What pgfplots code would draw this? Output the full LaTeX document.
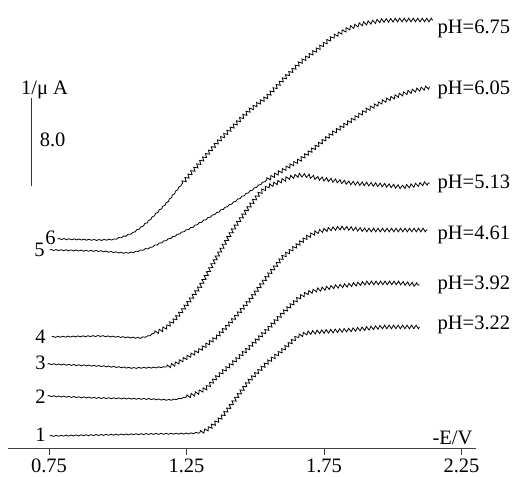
\documentclass[border=0pt]{standalone}
\usepackage{fontspec}
\setmainfont{Liberation Serif}
\usepackage{pgfplots}
\pgfplotsset{compat=1.18}
\usetikzlibrary{decorations.pathmorphing}

\begin{document}
\begin{tikzpicture}[font=\fontsize{20.5bp}{24bp}\selectfont,
  flat/.style={black, line width=0.8bp, decorate,
    decoration={zigzag, segment length=5bp, amplitude=0.5bp}},
  saw/.style={black, line width=0.8bp, decorate,
    decoration={zigzag, segment length=4.5bp, amplitude=1.8bp}},
  lab/.style={inner sep=1bp, text depth=0pt}]
\useasboundingbox (-8bp,-28.5bp) rectangle (507bp,448.5bp);
\begin{axis}[
  at={(0,0)}, anchor=south west, scale only axis,
  width=468bp, height=448.5bp,
  xmin=0.6009, xmax=2.3027, ymin=0, ymax=40.77,
  axis x line=bottom, axis y line=none,
  x axis line style={-, line width=0.8bp, black!75},
  xtick={0.75,1.25,1.75,2.25}, xticklabels={0.75,1.25,1.75,2.25},
  tick align=outside, major tick length=6bp,
  tick style={line width=0.8bp, black!75},
  xticklabel style={inner sep=1bp, text depth=0pt, yshift=-3bp},
  clip=false,
]
% curve 1, pH 3.22
\addplot[flat] coordinates {(0.753,1.14)(0.934,1.23)(1.116,1.32)(1.260,1.36)(1.299,1.45)};
\addplot[saw] coordinates {(1.299,1.45)(1.316,1.60)(1.334,1.86)(1.356,2.35)(1.378,2.86)(1.407,3.77)(1.433,4.68)(1.480,6.23)(1.542,7.77)(1.600,8.95)(1.651,10.14)(1.687,10.50)(1.723,10.59)(1.843,10.77)(1.963,11.05)(2.098,11.05)};
% curve 2, pH 3.92
\addplot[flat] coordinates {(0.745,4.77)(0.934,4.59)(1.116,4.50)(1.189,4.41)(1.220,4.50)(1.250,4.68)};
\addplot[saw] coordinates {(1.250,4.68)(1.290,5.05)(1.323,5.50)(1.360,6.50)(1.418,7.77)(1.480,9.23)(1.542,10.77)(1.600,12.32)(1.662,13.77)(1.690,14.15)(1.723,14.41)(1.782,14.68)(1.905,15.05)(2.025,15.05)(2.098,14.86)};
% curve 3, pH 4.61
\addplot[flat] coordinates {(0.745,7.68)(0.934,7.50)(1.054,7.32)(1.120,7.35)(1.178,7.41)};
\addplot[saw] coordinates {(1.178,7.41)(1.207,7.65)(1.236,8.05)(1.298,8.95)(1.360,10.14)(1.418,11.68)(1.480,13.50)(1.542,15.59)(1.600,17.41)(1.662,18.68)(1.690,19.25)(1.723,19.68)(1.770,19.95)(1.818,20.05)(1.905,19.86)(2.025,19.86)(2.127,19.86)};
% curve 4, pH 5.13
\addplot[flat] coordinates {(0.760,10.14)(0.934,10.23)(1.080,10.05)(1.110,10.20)(1.134,10.50)};
\addplot[saw] coordinates {(1.134,10.50)(1.158,10.75)(1.178,11.05)(1.207,11.70)(1.236,12.59)(1.298,14.68)(1.360,17.41)(1.418,19.86)(1.469,21.68)(1.516,23.23)(1.545,23.80)(1.578,24.14)(1.620,24.60)(1.662,24.86)(1.690,24.80)(1.723,24.59)(1.843,24.14)(1.963,23.95)(2.036,23.77)(2.135,24.14)};
% curve 5, pH 6.05
\addplot[flat] coordinates {(0.753,18.05)(0.934,17.95)(1.000,17.82)(1.032,17.77)(1.060,17.85)(1.090,18.05)(1.116,18.23)(1.178,18.95)(1.273,20.14)(1.360,21.41)(1.418,22.32)(1.542,24.41)};
\addplot[saw] coordinates {(1.542,24.41)(1.662,26.23)(1.782,28.68)(1.905,30.77)(1.965,31.55)(2.025,32.14)(2.080,32.55)(2.135,32.86)};
% curve 6, pH 6.75
\addplot[flat] coordinates {(0.782,19.05)(0.934,18.95)(0.985,19.00)(1.020,19.25)(1.054,19.59)(1.085,20.10)(1.116,20.77)(1.178,22.32)(1.236,24.14)};
\addplot[saw] coordinates {(1.236,24.14)(1.298,25.95)(1.360,27.77)(1.418,29.23)(1.480,30.77)(1.542,31.95)(1.600,33.50)(1.662,35.05)(1.723,36.23)(1.782,37.41)(1.843,38.23)(1.875,38.50)(1.905,38.68)(1.960,38.90)(2.025,38.95)(2.146,38.95)};

% curve numbers
\node[lab, anchor=east] at (axis cs:0.742,1.23) {1};
\node[lab, anchor=east] at (axis cs:0.742,4.68) {2};
\node[lab, anchor=east] at (axis cs:0.742,7.77) {3};
\node[lab, anchor=east] at (axis cs:0.742,10.14) {4};
\node[lab, anchor=east] at (axis cs:0.738,18.10) {5};
\node[lab, anchor=east] at (axis cs:0.778,19.14) {6};
% pH labels
\node[lab, anchor=west] at (axis cs:2.159,38.32) {pH=6.75};
\node[lab, anchor=west] at (axis cs:2.159,32.77) {pH=6.05};
\node[lab, anchor=west] at (axis cs:2.159,24.23) {pH=5.13};
\node[lab, anchor=west] at (axis cs:2.159,19.59) {pH=4.61};
\node[lab, anchor=west] at (axis cs:2.159,15.05) {pH=3.92};
\node[lab, anchor=west] at (axis cs:2.159,11.41) {pH=3.22};
\node[lab, anchor=east] at (axis cs:2.294,0.95) {-E/V};
% scale bar
\draw[line width=0.8bp, black!80] (axis cs:0.687,23.86) -- (axis cs:0.687,31.86);
\node[lab] at (axis cs:0.734,32.77) {1/μ A};
\node[lab] at (axis cs:0.763,28.05) {8.0};
\end{axis}
\end{tikzpicture}
\end{document}
